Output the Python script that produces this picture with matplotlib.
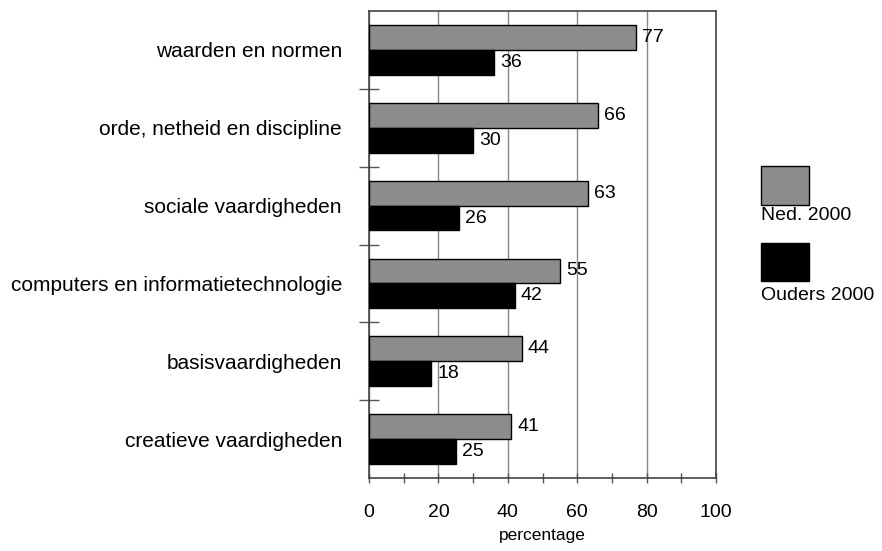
import matplotlib
matplotlib.use("Agg")
import matplotlib.pyplot as plt
import numpy as np
from matplotlib.patches import Rectangle

categories = ["waarden en normen", "orde, netheid en discipline", "sociale vaardigheden",
              "computers en informatietechnologie", "basisvaardigheden", "creatieve vaardigheden"]
ned_2000 = [77, 66, 63, 55, 44, 41]
ouders_2000 = [36, 30, 26, 42, 18, 25]
series_names = ["Ned. 2000", "Ouders 2000"]
x_ticks = [0, 20, 40, 60, 80, 100]

plt.rcParams['font.family'] = ['Liberation Sans', 'DejaVu Sans']
FS = 14

fig = plt.figure(figsize=(8.82, 5.51), dpi=100)
ax = fig.add_axes([369/882, 1-478/551, (716-369)/882, (478-11)/551])

n = len(categories)
y = np.arange(n)
h = 0.32
grey = "#8c8c8c"
ax.barh(y - h/2, ned_2000, height=h, color=grey, edgecolor="black", linewidth=1.0, zorder=3)
ax.barh(y + h/2, ouders_2000, height=h, color="black", edgecolor="black", linewidth=1.0, zorder=3)

for yi, v in zip(y, ned_2000):
    ax.text(v + 1.8, yi - h/2, str(v), va="center", ha="left", fontsize=FS, zorder=4)
for yi, v in zip(y, ouders_2000):
    ax.text(v + 1.8, yi + h/2, str(v), va="center", ha="left", fontsize=FS, zorder=4)

ax.set_xlim(0, 100)
ax.set_ylim(n - 0.5, -0.5)
ax.set_xticks(x_ticks)
ax.set_xticks(np.arange(10, 100, 20), minor=True)
ax.set_xticklabels([str(t) for t in x_ticks], fontsize=FS)
ax.tick_params(axis='x', which='both', direction='inout', length=7, width=1, color="#555555", pad=15)
ax.xaxis.grid(True, which='major', color="#888888", linewidth=1, zorder=1)

ax.set_yticks(y)
ax.set_yticklabels(categories, fontsize=15)
ax.tick_params(axis='y', which='major', length=0, pad=19.5)
ax.set_yticks(np.arange(0.5, n - 0.5, 1.0), minor=True)
ax.tick_params(axis='y', which='minor', direction='inout', length=14, width=1, color="#555555")

for s in ax.spines.values():
    s.set_color("#444444")
    s.set_linewidth(1.2)

ax.set_xlabel("percentage", fontsize=12.5, labelpad=5)

# legend
fig.patches.append(Rectangle((761/882, 1-205/551), 48/882, 39/551, transform=fig.transFigure,
                             facecolor=grey, edgecolor="black", linewidth=1))
fig.text(761/882, 1-216/551, series_names[0], fontsize=FS, va="center", ha="left")
fig.patches.append(Rectangle((761/882, 1-281/551), 48/882, 38/551, transform=fig.transFigure,
                             facecolor="black", edgecolor="black", linewidth=1))
fig.text(761/882, 1-295/551, series_names[1], fontsize=FS, va="center", ha="left")

fig.savefig("out.png", dpi=100)
